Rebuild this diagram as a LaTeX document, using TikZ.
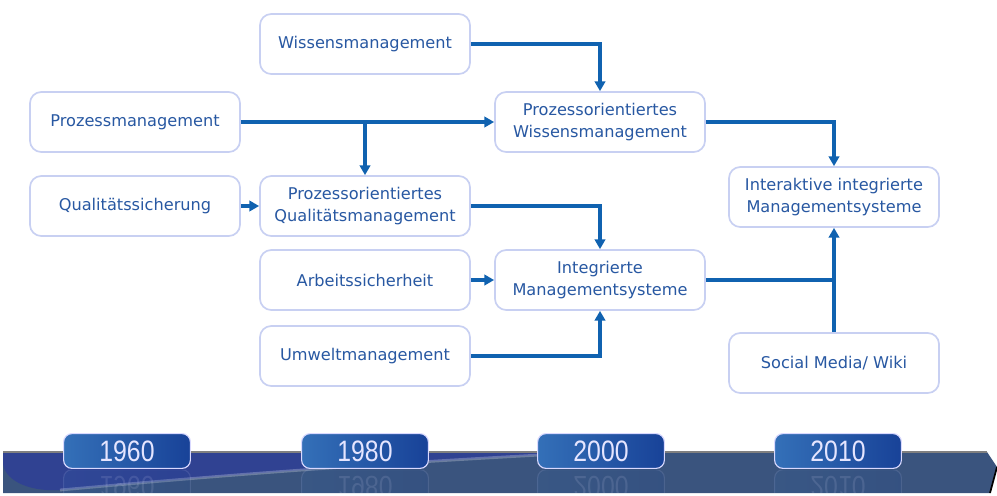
\documentclass[tikz,border=0pt]{standalone}
\usepackage{fontspec}
\setmainfont{DejaVu Sans}
\newfontfamily\yearfont[FakeStretch=0.84]{Liberation Sans}
\usetikzlibrary{arrows.meta}
\definecolor{textblue}{RGB}{40,88,162}
\definecolor{linkblue}{RGB}{16,98,176}
\definecolor{boxrim}{RGB}{200,208,242}
\definecolor{barslate}{RGB}{58,84,126}
\definecolor{barswoosh}{RGB}{48,66,146}
\definecolor{tableft}{RGB}{52,112,184}
\definecolor{tabright}{RGB}{24,66,152}
\tikzset{
  stage/.style={draw=boxrim, line width=1.2pt, fill=white, rounded corners=8pt,
    minimum width=5.25cm, minimum height=1.5cm, align=center, text=textblue,
    font=\fontsize{11.5}{15.8}\selectfont},
  link/.style={draw=linkblue, line width=2.2pt, -{Triangle[length=7pt,width=7.5pt]}},
  joint/.style={draw=linkblue, line width=2.2pt},
  yeartab/.style={draw=white!85!blue, line width=0.8pt, rounded corners=6pt,
    left color=tableft, right color=tabright, minimum width=3.17cm, minimum height=0.87cm,
    text=white!90!blue, font=\yearfont\fontsize{21}{21}\selectfont},
}
\begin{document}
\begin{tikzpicture}[x=0.025cm, y=-0.025cm]
\useasboundingbox (0,0) rectangle (997,495);

\fill[barslate] (3,452) -- (987,452) -- (997,467) -- (990,493) -- (3,493) -- cycle;
\fill[barswoosh] (3,452) -- (540,452) -- (540,455) .. controls (300,468) and (150,482) .. (60,490) .. controls (25,492) and (3,478) .. (3,462) -- cycle;
\draw[white, opacity=0.25, line width=2pt] (540,455) .. controls (300,468) and (150,482) .. (60,490);
\draw[gray, line width=1.2pt] (3,452) -- (987,452);
\draw[black, line width=1.2pt] (997,467) -- (990,493);

\foreach \yr/\cx in {1960/127, 1980/365, 2000/601, 2010/838} {
  \begin{scope}
  \clip (0,470) rectangle (997,492);
  \node[yeartab, opacity=0.12, yscale=-1] (ghost\yr) at (\cx,487) {\yr};
  \end{scope}
  \node[yeartab] (tab\yr) at (\cx,451) {\yr};
}

\node[stage] (wiss) at (365,44) {Wissensmanagement};
\node[stage] (proz) at (135,122) {Prozessmanagement};
\node[stage] (pwm) at (600,122) {Prozessorientiertes\\Wissensmanagement};
\node[stage] (qual) at (135,206) {Qualitätssicherung};
\node[stage] (pqm) at (365,206) {Prozessorientiertes\\Qualitätsmanagement};
\node[stage] (iims) at (834,197) {Interaktive integrierte\\Managementsysteme};
\node[stage] (arb) at (365,280) {Arbeitssicherheit};
\node[stage] (ims) at (600,280) {Integrierte\\Managementsysteme};
\node[stage] (umw) at (365,356) {Umweltmanagement};
\node[stage] (social) at (834,363) {Social Media/ Wiki};

\coordinate (split) at (proz.east -| pqm.north);
\coordinate (merge) at (ims.east -| iims.south);

\draw[link] (wiss.east) -| (pwm.north);
\draw[link] (proz.east) -- (pwm.west);
\draw[link] (split) -- (pqm.north);
\draw[link] (qual.east) -- (pqm.west);
\draw[link] (pqm.east) -| (ims.north);
\draw[link] (arb.east) -- (ims.west);
\draw[link] (umw.east) -| (ims.south);
\draw[link] (pwm.east) -| (iims.north);
\draw[joint] (ims.east) -- (merge);
\draw[link] (social.north) -- (iims.south);
\end{tikzpicture}
\end{document}
